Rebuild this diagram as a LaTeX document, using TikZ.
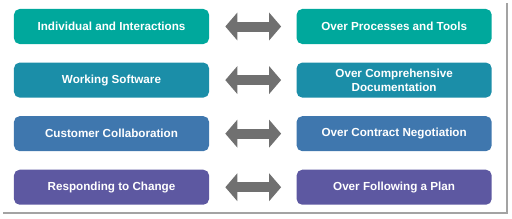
\documentclass[tikz,border=0pt]{standalone}
\usepackage{fontspec}
\setmainfont{Liberation Sans}
\usetikzlibrary{arrows.meta,positioning}
\definecolor{rowA}{HTML}{00A89C}
\definecolor{rowB}{HTML}{1B8EA8}
\definecolor{rowC}{HTML}{3F77AE}
\definecolor{rowD}{HTML}{5D58A1}
\definecolor{arrowgray}{HTML}{707070}
\definecolor{framegray}{HTML}{A3A3A3}
\tikzset{
  valuebox/.style={rounded corners=4pt,minimum width=4.875cm,minimum height=0.875cm,
    text=white,font=\fontsize{8.3}{9.6}\selectfont\bfseries,align=center,inner sep=1pt},
  fatarrow/.style={arrowgray,line width=0.25cm,
    {Triangle[length=0.3cm,width=0.68cm]}-{Triangle[length=0.3cm,width=0.68cm]},
    shorten <=0.4cm,shorten >=0.38cm}
}

\begin{document}
\begin{tikzpicture}[x=0.025cm,y=0.025cm,node distance=0.45cm and 2.175cm]
\useasboundingbox (0,0) rectangle (512,-218);
% frame shadow
\draw[framegray,line width=1.2pt] (3,-213)--(507,-213)--(507,-3);
% left column
\node[valuebox,fill=rowA] (l1) at (111.5,-26.5){Individual and Interactions};
\node[valuebox,fill=rowB,below=of l1] (l2){Working Software};
\node[valuebox,fill=rowC,below=of l2] (l3){Customer Collaboration};
\node[valuebox,fill=rowD,below=of l3] (l4){Responding to Change};
% right column
\node[valuebox,fill=rowA,right=of l1] (r1){Over Processes and Tools};
\node[valuebox,fill=rowB,right=of l2] (r2){Over Comprehensive\\Documentation};
\node[valuebox,fill=rowC,right=of l3] (r3){Over Contract Negotiation};
\node[valuebox,fill=rowD,right=of l4] (r4){Over Following a Plan};
% arrows
\foreach \i in {1,...,4}{\draw[fatarrow] (l\i.east)--(r\i.west);}
\end{tikzpicture}
\end{document}
